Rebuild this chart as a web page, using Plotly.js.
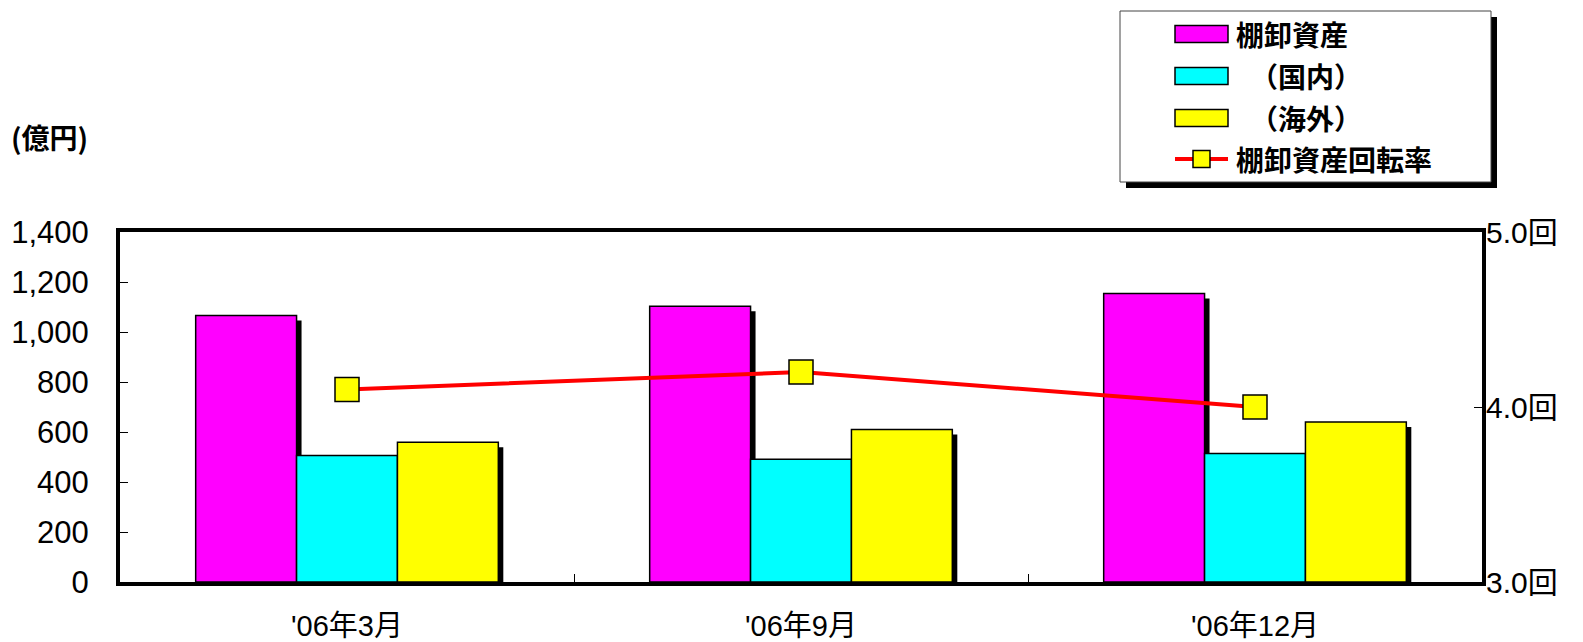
<!DOCTYPE html>
<html>
<head>
<meta charset="utf-8">
<script src="https://cdn.plot.ly/plotly-3.0.1.min.js"></script>
<style>html,body{margin:0;padding:0;background:#fff;}#chart{width:1583px;height:642px;}</style>
</head>
<body>
<div id="chart"></div>
<script>
// ---- data ----
const categories = ["'06年3月", "'06年9月", "'06年12月"];
const seriesNames = ["棚卸資産", "　（国内）", "　（海外）", "棚卸資産回転率"];
const inventoryTotal = [1066, 1103, 1154];
const inventoryDomestic = [506, 491, 514];
const inventoryOverseas = [559, 610, 640];
const turnoverRate = [4.1, 4.2, 4.0];
const leftTickVals = [0, 200, 400, 600, 800, 1000, 1200, 1400];
const rightTickVals = [3.0, 4.0, 5.0];
const rightTickText = ["3.0回", "4.0回", "5.0回"];
const unitLabel = "(億円)";

// ---- layout helpers ----
const L = 120, T = 232, W = 1362, H = 350;
const px = x => (x - L) / W;
const py = y => (T + H - y) / H;
const FONT = "Liberation Sans, Arial, Noto Sans CJK JP, sans-serif";
const CJK = "Noto Sans CJK JP, Liberation Sans, sans-serif";

const barColors = ["#ff00ff", "#00ffff", "#ffff00"];
const barValues = [inventoryTotal, inventoryDomestic, inventoryOverseas];
const barW = 0.2222;
const offsets = [-0.3333, -0.1111, 0.1111];
const shadowDx = 0.011, shadowDy = 20;

const traces = [];
// shadows first (drawn beneath)
barValues.forEach((vals, i) => {
  traces.push({
    type: 'bar', x: categories, y: vals, base: -shadowDy,
    width: barW, offset: offsets[i] + shadowDx,
    marker: {color: '#000000', line: {width: 0}},
    showlegend: false, hoverinfo: 'skip', xaxis: 'x', yaxis: 'y'
  });
});
barValues.forEach((vals, i) => {
  traces.push({
    type: 'bar', name: seriesNames[i], x: categories, y: vals,
    width: barW, offset: offsets[i],
    marker: {color: barColors[i], line: {color: '#000000', width: 1.5}},
    showlegend: false, xaxis: 'x', yaxis: 'y'
  });
});
traces.push({
  type: 'scatter', mode: 'lines+markers', name: seriesNames[3],
  x: categories, y: turnoverRate, yaxis: 'y2',
  line: {color: '#ff0000', width: 4},
  marker: {symbol: 'square', size: 24, color: '#ffff00', line: {color: '#000000', width: 1.5}},
  showlegend: false
});

// custom legend (decoration)
const shapes = [];
const annotations = [];
const lgX0 = 1120, lgX1 = 1491, lgY0 = 11, lgY1 = 182;
shapes.push({type: 'rect', xref: 'paper', yref: 'paper', x0: px(lgX0 + 6), x1: px(lgX1 + 6), y0: py(lgY0 + 6), y1: py(lgY1 + 6), fillcolor: '#000000', line: {width: 0}});
shapes.push({type: 'rect', xref: 'paper', yref: 'paper', x0: px(lgX0), x1: px(lgX1), y0: py(lgY0), y1: py(lgY1), fillcolor: '#ffffff', line: {color: '#444444', width: 1}});
const rowY = [34, 76, 118, 159];
for (let i = 0; i < 3; i++) {
  shapes.push({type: 'rect', xref: 'paper', yref: 'paper', x0: px(1175), x1: px(1228), y0: py(rowY[i] - 8.5), y1: py(rowY[i] + 8.5), fillcolor: barColors[i], line: {color: '#000000', width: 1.5}});
}
shapes.push({type: 'line', xref: 'paper', yref: 'paper', x0: px(1175), x1: px(1228), y0: py(rowY[3]), y1: py(rowY[3]), line: {color: '#ff0000', width: 4}});
shapes.push({type: 'rect', xref: 'paper', yref: 'paper', x0: px(1193), x1: px(1210), y0: py(rowY[3] - 8.5), y1: py(rowY[3] + 8.5), fillcolor: '#ffff00', line: {color: '#000000', width: 1.5}});
seriesNames.forEach((n, i) => {
  annotations.push({xref: 'paper', yref: 'paper', x: px(1234), y: py(rowY[i]), xanchor: 'left', yanchor: 'middle', text: '<b>' + n + '</b>', showarrow: false, font: {family: CJK, size: 28, color: '#000000'}});
});
annotations.push({xref: 'paper', yref: 'paper', x: px(9), y: py(137), xanchor: 'left', yanchor: 'middle', text: '<b>' + unitLabel + '</b>', showarrow: false, font: {family: CJK, size: 28, color: '#000000'}});

const layout = {
  width: 1583, height: 642,
  margin: {l: L, r: 1583 - L - W, t: T, b: 642 - T - H, pad: 0},
  paper_bgcolor: '#ffffff', plot_bgcolor: '#ffffff',
  barmode: 'overlay',
  showlegend: false,
  font: {family: FONT, color: '#000000', size: 30},
  xaxis: {
    type: 'category', range: [-0.5, 2.5], autorange: false,
    showline: true, linewidth: 4, linecolor: '#000000', mirror: true,
    ticks: 'inside', tickson: 'boundaries', ticklen: 8, tickwidth: 1, tickcolor: '#000000',
    showgrid: false, zeroline: false, ticklabelstandoff: 15,
    tickfont: {family: FONT, size: 29, color: '#000000'}
  },
  yaxis: {
    range: [0, 1400], autorange: false, tickvals: leftTickVals, tickformat: ',d',
    showline: true, linewidth: 4, linecolor: '#000000', mirror: true,
    ticks: 'inside', ticklen: 8, tickwidth: 1, tickcolor: '#000000',
    showgrid: false, zeroline: false, ticklabelstandoff: 21,
    tickfont: {family: FONT, size: 31, color: '#000000'}
  },
  yaxis2: {
    overlaying: 'y', side: 'right', range: [3, 5], autorange: false,
    tickmode: 'array', tickvals: rightTickVals, ticktext: rightTickText,
    showline: false, ticks: 'inside', ticklen: 8, tickwidth: 1, tickcolor: '#000000',
    showgrid: false, zeroline: false, ticklabelstandoff: 3,
    tickfont: {family: FONT, size: 30, color: '#000000'}
  },
  shapes: shapes,
  annotations: annotations
};

Plotly.newPlot('chart', traces, layout, {displayModeBar: false, staticPlot: true});
</script>
</body>
</html>
